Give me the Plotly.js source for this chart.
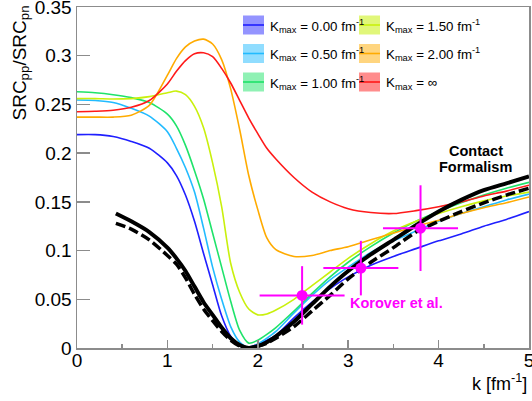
<!DOCTYPE html>
<html>
<head>
<meta charset="utf-8">
<script src="https://cdn.plot.ly/plotly-3.0.1.min.js"></script>
<style>html,body{margin:0;padding:0;background:#fff;}#plot{width:532px;height:401px;}</style>
</head>
<body>
<div id="plot"></div>
<script>
// ---- data ----
const kGrid = [0, 0.2, 0.4, 0.6, 0.8, 1.0, 1.1, 1.2, 1.3, 1.4, 1.5, 1.6, 1.7, 1.8, 1.9, 2.0, 2.1, 2.2, 2.4, 2.6, 2.8, 3.0, 3.25, 3.5, 3.75, 4.0, 4.25, 4.5, 4.75, 5.0];
const kmax000 = [0.219, 0.219, 0.217, 0.212, 0.205, 0.190, 0.177, 0.157, 0.130, 0.097, 0.065, 0.033, 0.012, 0.002, 0.001, 0.004, 0.008, 0.013, 0.031, 0.047, 0.061, 0.073, 0.085, 0.094, 0.102, 0.110, 0.117, 0.125, 0.132, 0.140];
const kmax050 = [0.2545, 0.254, 0.252, 0.246, 0.238, 0.222, 0.205, 0.185, 0.160, 0.123, 0.083, 0.050, 0.022, 0.006, 0.000, 0.004, 0.010, 0.017, 0.036, 0.054, 0.070, 0.083, 0.098, 0.110, 0.120, 0.130, 0.138, 0.145, 0.152, 0.158];
const kmax100 = [0.263, 0.262, 0.260, 0.257, 0.252, 0.240, 0.228, 0.208, 0.182, 0.153, 0.118, 0.083, 0.048, 0.018, 0.005, 0.008, 0.014, 0.021, 0.038, 0.056, 0.073, 0.088, 0.104, 0.118, 0.130, 0.140, 0.149, 0.157, 0.164, 0.170];
const kmax150 = [0.256, 0.256, 0.2555, 0.256, 0.258, 0.262, 0.2637, 0.260, 0.248, 0.226, 0.190, 0.145, 0.087, 0.057, 0.040, 0.034, 0.035, 0.039, 0.050, 0.064, 0.078, 0.092, 0.107, 0.120, 0.130, 0.138, 0.145, 0.151, 0.156, 0.160];
const kmax200 = [0.237, 0.237, 0.237, 0.239, 0.249, 0.280, 0.297, 0.309, 0.315, 0.317, 0.312, 0.296, 0.266, 0.224, 0.177, 0.142, 0.113, 0.101, 0.094, 0.095, 0.100, 0.104, 0.111, 0.118, 0.125, 0.131, 0.138, 0.144, 0.149, 0.155];
const kmaxInf = [0.2425, 0.243, 0.244, 0.247, 0.254, 0.271, 0.284, 0.295, 0.302, 0.303, 0.299, 0.287, 0.272, 0.254, 0.236, 0.220, 0.205, 0.194, 0.175, 0.160, 0.150, 0.143, 0.139, 0.138, 0.141, 0.145, 0.150, 0.156, 0.161, 0.167];

const kContact = [0.43, 0.6, 0.8, 1.0, 1.1, 1.2, 1.3, 1.4, 1.5, 1.6, 1.7, 1.8, 1.9, 2.0, 2.1, 2.2, 2.4, 2.6, 2.8, 3.0, 3.25, 3.5, 3.75, 4.0, 4.25, 4.5, 4.75, 5.0];
const contactSolid = [0.138, 0.130, 0.119, 0.103, 0.092, 0.079, 0.063, 0.047, 0.034, 0.021, 0.010, 0.003, 0.000, 0.002, 0.006, 0.012, 0.027, 0.045, 0.063, 0.079, 0.096, 0.111, 0.126, 0.140, 0.152, 0.162, 0.169, 0.176];
const contactDashed = [0.128, 0.122, 0.111, 0.095, 0.086, 0.072, 0.055, 0.040, 0.028, 0.017, 0.008, 0.002, 0.000, 0.002, 0.005, 0.010, 0.022, 0.038, 0.054, 0.071, 0.088, 0.103, 0.119, 0.130, 0.140, 0.149, 0.157, 0.164];

const dataK = [2.49, 3.14, 3.80];
const dataR = [0.054, 0.082, 0.123];
const dataKerr = [0.47, 0.415, 0.415];
const dataRerr = [0.030, 0.028, 0.044];

const legendLabels = ["K<sub>max</sub> = 0.00 fm<sup>-1</sup>", "K<sub>max</sub> = 0.50 fm<sup>-1</sup>", "K<sub>max</sub> = 1.00 fm<sup>-1</sup>",
                      "K<sub>max</sub> = 1.50 fm<sup>-1</sup>", "K<sub>max</sub> = 2.00 fm<sup>-1</sup>", "K<sub>max</sub> = ∞"];

// ---- styles ----
const FONT = "Liberation Sans, Arial, Helvetica, sans-serif";
const colors = ['#1f1fff', '#22bbff', '#1fe36a', '#c9f00c', '#ffab00', '#ff1a1a'];
const fills = ['rgba(60,60,255,0.55)', 'rgba(34,187,255,0.5)', 'rgba(31,227,106,0.5)', 'rgba(201,240,12,0.55)', 'rgba(255,171,0,0.5)', 'rgba(255,26,26,0.5)'];
const series = [kmax000, kmax050, kmax100, kmax150, kmax200, kmaxInf];

const traces = series.map((ys, i) => ({
  x: kGrid, y: ys, type: 'scatter', mode: 'lines',
  line: {color: colors[i], width: 1.6, shape: 'spline', smoothing: 0.7},
  showlegend: false, hoverinfo: 'skip'
}));
traces.push({x: kContact, y: contactSolid, type: 'scatter', mode: 'lines',
  line: {color: '#000', width: 4, shape: 'spline', smoothing: 0.7}, showlegend: false});
traces.push({x: kContact, y: contactDashed, type: 'scatter', mode: 'lines',
  line: {color: '#000', width: 3.5, dash: '10px,4px', shape: 'spline', smoothing: 0.7}, showlegend: false});
traces.push({x: dataK, y: dataR, type: 'scatter', mode: 'markers',
  marker: {color: '#ff00ff', size: 11},
  error_x: {type: 'data', array: dataKerr, color: '#ff00ff', thickness: 2, width: 0},
  error_y: {type: 'data', array: dataRerr, color: '#ff00ff', thickness: 2, width: 0},
  showlegend: false});

// pixel helpers (plot area: x 77..529, y 7..348)
const L = 77, R = 529, T = 7, B = 348;
const px2paperX = p => (p - L) / (R - L);
const px2paperY = p => (B - p) / (B - T);

const shapes = [];
const annotations = [];
const colX = [243, 359];
const rowY = [25, 53.5, 82];
for (let i = 0; i < 6; i++) {
  const c = Math.floor(i / 3), r = i % 3;
  const x0 = colX[c], x1 = colX[c] + 21, yc = rowY[r];
  shapes.push({type: 'rect', xref: 'paper', yref: 'paper',
    x0: px2paperX(x0), x1: px2paperX(x1), y0: px2paperY(yc + 9.5), y1: px2paperY(yc - 9.5),
    fillcolor: fills[i], line: {width: 0}});
  shapes.push({type: 'line', xref: 'paper', yref: 'paper',
    x0: px2paperX(x0), x1: px2paperX(x1), y0: px2paperY(yc), y1: px2paperY(yc),
    line: {color: colors[i], width: 1.6}});
  annotations.push({xref: 'paper', yref: 'paper', x: px2paperX(x1 + 4), y: px2paperY(yc + 1),
    xanchor: 'left', yanchor: 'middle', showarrow: false, text: legendLabels[i],
    font: {family: FONT, size: 13.3, color: '#000'}});
}
annotations.push({xref: 'paper', yref: 'paper', x: px2paperX(20), y: px2paperY(4),
  xanchor: 'center', yanchor: 'top', textangle: -90, showarrow: false,
  text: 'SRC<sub>pp</sub>/SRC<sub>pn</sub>', font: {family: FONT, size: 19, color: '#000'}});
annotations.push({xref: 'paper', yref: 'paper', x: px2paperX(529), y: px2paperY(383),
  xanchor: 'right', yanchor: 'middle', showarrow: false,
  text: 'k [fm<sup>-1</sup>]', font: {family: FONT, size: 18, color: '#000'}});
annotations.push({xref: 'x', yref: 'y', x: 4.41, y: 0.202, xanchor: 'center', yanchor: 'middle', showarrow: false,
  text: '<b>Contact</b>', font: {family: FONT, size: 14.5, color: '#000'}});
annotations.push({xref: 'x', yref: 'y', x: 4.41, y: 0.186, xanchor: 'center', yanchor: 'middle', showarrow: false,
  text: '<b>Formalism</b>', font: {family: FONT, size: 14.5, color: '#000'}});
annotations.push({xref: 'x', yref: 'y', x: 3.53, y: 0.046, xanchor: 'center', yanchor: 'middle', showarrow: false,
  text: '<b>Korover et al.</b>', font: {family: FONT, size: 14.5, color: '#ff00ff'}});

const layout = {
  width: 532, height: 401,
  margin: {l: L, r: 532 - R, t: T, b: 401 - B, pad: 0},
  paper_bgcolor: '#fff', plot_bgcolor: '#fff',
  showlegend: false,
  font: {family: FONT, size: 19, color: '#000'},
  xaxis: {range: [0, 5], tickmode: 'linear', tick0: 0, dtick: 1, ticks: 'inside', ticklen: 8, tickcolor: '#8c8c8c', tickwidth: 1.5,
    minor: {dtick: 0.5, ticks: 'inside', ticklen: 4, tickcolor: '#8c8c8c', tickwidth: 1.5},
    ticklabeloverflow: 'allow', ticklabelstandoff: -5,
    showgrid: false, zeroline: false, showline: true, mirror: true, linecolor: '#8c8c8c', linewidth: 1.5,
    tickfont: {family: FONT, size: 19, color: '#000'}, fixedrange: true},
  yaxis: {range: [0, 0.35], tickmode: 'linear', tick0: 0, dtick: 0.05, ticks: 'inside', ticklen: 13, tickcolor: '#8c8c8c', tickwidth: 1.5,
    ticklabeloverflow: 'allow',
    showgrid: false, zeroline: false, showline: true, mirror: true, linecolor: '#8c8c8c', linewidth: 1.5,
    tickfont: {family: FONT, size: 19, color: '#000'}, fixedrange: true},
  shapes: shapes,
  annotations: annotations
};

Plotly.newPlot('plot', traces, layout, {displayModeBar: false, staticPlot: true});
</script>
</body>
</html>
